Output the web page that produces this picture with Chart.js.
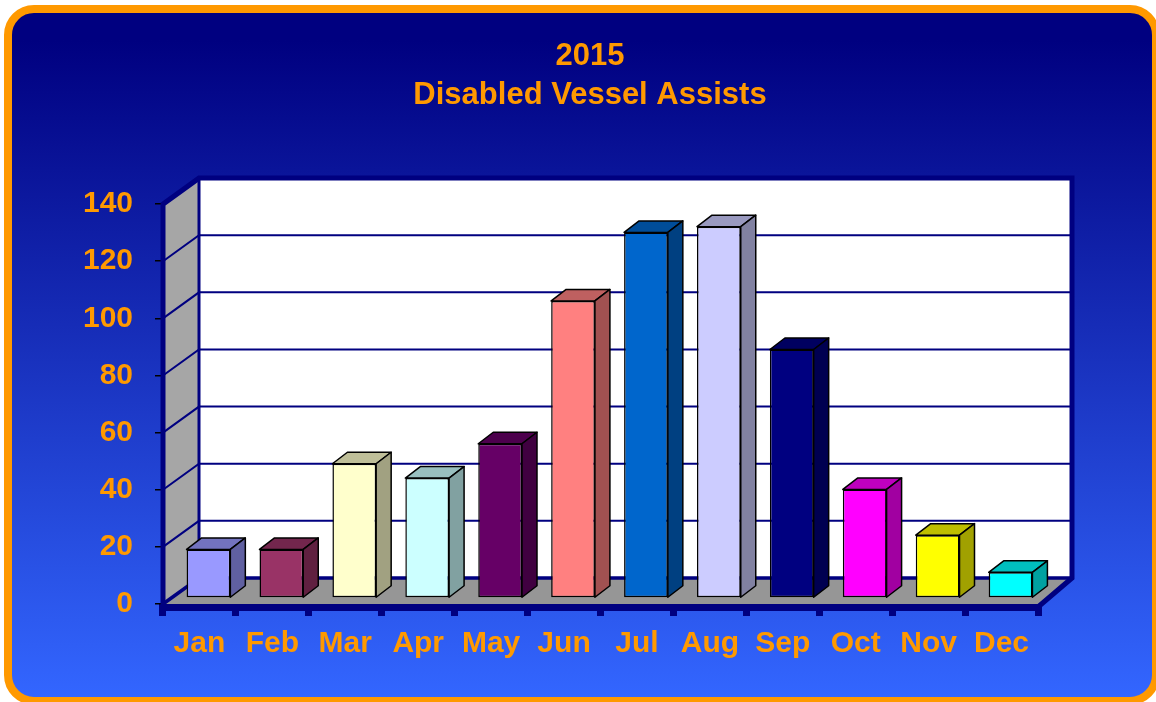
<!DOCTYPE html>
<html>
<head>
<meta charset="utf-8">
<script src="https://cdn.jsdelivr.net/npm/chart.js@4.4.0/dist/chart.umd.min.js"></script>
<style>
html, body { margin: 0; padding: 0; background: #fff; overflow: hidden; }
#frame {
  position: absolute; left: 4px; top: 5px;
  width: 1156px; height: 700px; box-sizing: border-box;
  border: 8px solid #FF9900; border-radius: 30px;
  background: linear-gradient(to bottom, #000080 0%, #000080 4%, #3366FF 100%);
}
#myChart { position: absolute; left: 0; top: 0; }
</style>
</head>
<body>
<div id="frame"></div>
<canvas id="myChart" width="1156" height="702"></canvas>
<script>
// data
var months = ['Jan', 'Feb', 'Mar', 'Apr', 'May', 'Jun', 'Jul', 'Aug', 'Sep', 'Oct', 'Nov', 'Dec'];
var assists = [17, 17, 47, 42, 54, 104, 128, 130, 87, 38, 22, 9];
var barColors = ['#9999FF', '#993366', '#FFFFCC', '#CCFFFF', '#660066', '#FF8080',
                 '#0066CC', '#CCCCFF', '#000080', '#FF00FF', '#FFFF00', '#00FFFF'];
var yTicks = [0, 20, 40, 60, 80, 100, 120, 140];

var FONT = "'Liberation Sans', Arial, sans-serif";
var ORANGE = '#FF9900';
var NAVY = '#000080';

// depth of the box, shift of the bar front, depth of a bar
var DX = 36, DY = -26;
var BX = 9, BY = -6;
var SX = 15, SY = -11.5;

function shade(hex, f) {
  var n = parseInt(hex.slice(1), 16);
  var r = Math.round(((n >> 16) & 255) * f);
  var g = Math.round(((n >> 8) & 255) * f);
  var b = Math.round((n & 255) * f);
  return 'rgb(' + r + ',' + g + ',' + b + ')';
}

function poly(ctx, pts) {
  ctx.beginPath();
  ctx.moveTo(pts[0][0], pts[0][1]);
  for (var i = 1; i < pts.length; i++) ctx.lineTo(pts[i][0], pts[i][1]);
  ctx.closePath();
}

// walls, floor and bar tops/sides
var box3d = {
  id: 'box3d',
  beforeDatasetsDraw: function(chart) {
    var ctx = chart.ctx, a = chart.chartArea, y = chart.scales.y;
    ctx.save();
    ctx.fillStyle = '#A6A6A6';
    poly(ctx, [[a.left, a.bottom], [a.left, a.top], [a.left + DX, a.top + DY], [a.left + DX, a.bottom + DY]]);
    ctx.fill();
    ctx.fillStyle = '#969696';
    poly(ctx, [[a.left, a.bottom], [a.right, a.bottom], [a.right + DX, a.bottom + DY], [a.left + DX, a.bottom + DY]]);
    ctx.fill();
    ctx.fillStyle = '#FFFFFF';
    ctx.fillRect(a.left + DX, a.top + DY, a.right - a.left, a.bottom - a.top);

    // grid lines on side wall and back wall
    ctx.strokeStyle = NAVY;
    yTicks.forEach(function(v) {
      var py = y.getPixelForValue(v);
      ctx.lineWidth = v === 0 ? 3.5 : 2;
      ctx.beginPath();
      ctx.moveTo(a.left, py);
      ctx.lineTo(a.left + DX, py + DY);
      ctx.lineTo(a.right + DX, py + DY);
      ctx.stroke();
    });
    ctx.lineWidth = 3;
    ctx.beginPath();
    ctx.moveTo(a.left + DX, a.top + DY);
    ctx.lineTo(a.left + DX, a.bottom + DY);
    ctx.stroke();

    // thick outline
    ctx.lineWidth = 5;
    ctx.lineJoin = 'miter';
    ctx.beginPath();
    ctx.moveTo(a.left, a.bottom + 4);
    ctx.lineTo(a.left, a.top);
    ctx.lineTo(a.left + DX, a.top + DY);
    ctx.lineTo(a.right + DX - 2, a.top + DY);
    ctx.lineTo(a.right + DX - 2, a.bottom + DY);
    ctx.lineTo(a.right, a.bottom + 3);
    ctx.stroke();
    ctx.lineWidth = 7;
    ctx.beginPath();
    ctx.moveTo(a.left - 2.5, a.bottom + 3.5);
    ctx.lineTo(a.right + 1, a.bottom + 3.5);
    ctx.stroke();
    ctx.restore();

    ctx.save();
    ctx.translate(BX, BY);
  },
  afterDatasetsDraw: function(chart) {
    var ctx = chart.ctx;
    var meta = chart.getDatasetMeta(0);
    ctx.lineWidth = 1.5;
    ctx.strokeStyle = '#000';
    ctx.lineJoin = 'round';
    meta.data.forEach(function(bar, i) {
      var l = bar.x - bar.width / 2, r = bar.x + bar.width / 2, t = bar.y, b = bar.base;
      ctx.fillStyle = shade(barColors[i], 0.75);
      poly(ctx, [[l, t], [r, t], [r + SX, t + SY], [l + SX, t + SY]]);
      ctx.fill();
      ctx.stroke();
      ctx.fillStyle = shade(barColors[i], 0.63);
      poly(ctx, [[r, t], [r + SX, t + SY], [r + SX, b + SY], [r, b]]);
      ctx.fill();
      ctx.stroke();
    });
    ctx.restore();
  }
};

var ctx = document.getElementById('myChart').getContext('2d');
var myChart = new Chart(ctx, {
  type: 'bar',
  data: {
    labels: months,
    datasets: [{
      data: assists,
      backgroundColor: barColors,
      borderColor: '#000',
      borderWidth: 1.5,
      borderSkipped: false,
      barPercentage: 0.6,
      categoryPercentage: 1.0
    }]
  },
  options: {
    responsive: false,
    animation: false,
    layout: { padding: { left: 24, right: 0, top: 0, bottom: 28 } },
    plugins: {
      legend: { display: false },
      tooltip: { enabled: false },
      title: {
        display: true,
        text: ['2015', 'Disabled Vessel Assists'],
        color: ORANGE,
        font: { family: FONT, size: 31, weight: 'bold', lineHeight: 1.25 },
        padding: { top: 37, bottom: 89.6 }
      }
    },
    scales: {
      x: {
        border: { display: false },
        grid: { offset: true, drawOnChartArea: false, tickLength: 12, lineWidth: 7, color: NAVY },
        ticks: { color: ORANGE, padding: 10, font: { family: FONT, size: 30, weight: 'bold' } },
        afterFit: function(s) { s.height = 70; }
      },
      y: {
        min: 0,
        max: 140,
        border: { display: false },
        grid: { drawOnChartArea: false, tickLength: 8, lineWidth: 1.5, color: '#000' },
        ticks: { stepSize: 20, color: ORANGE, padding: 22, font: { family: FONT, size: 30, weight: 'bold' } },
        afterFit: function(s) { s.width = 139; }
      },
      // empty right-hand spacer so the title centres like the original
      yRight: {
        position: 'right',
        display: true,
        border: { display: false },
        grid: { display: false },
        ticks: { display: false },
        afterFit: function(s) { s.width = 118; }
      }
    }
  },
  plugins: [box3d]
});
</script>
</body>
</html>
